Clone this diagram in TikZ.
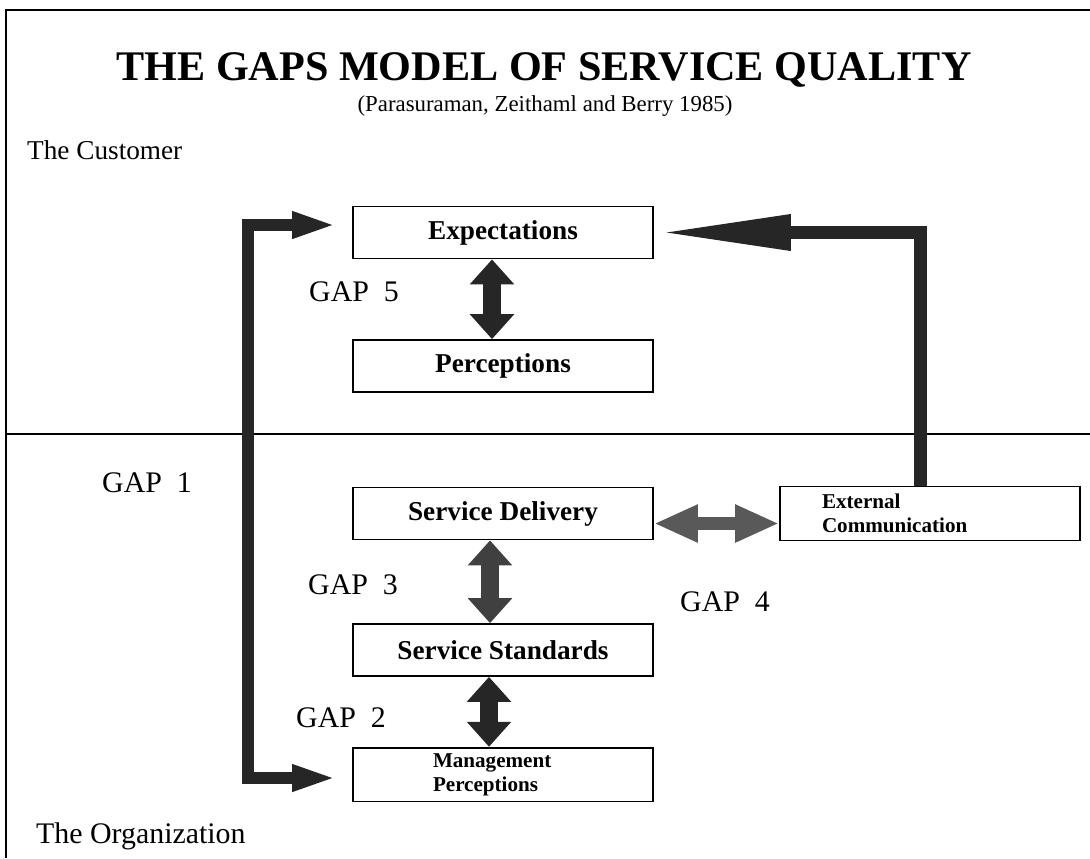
\documentclass[tikz,border=0pt]{standalone}
\usepackage{fontspec}
\setmainfont{Liberation Serif}
\usetikzlibrary{shapes,arrows,arrows.meta}
\tikzstyle{block} = [rectangle, draw, line width=1pt, minimum width=6cm, minimum height=1.04cm, font=\fontsize{15.5}{18}\selectfont\bfseries]
\tikzstyle{smallblock} = [rectangle, draw, line width=1pt, minimum width=6cm, minimum height=1.06cm, align=left, font=\fontsize{12}{13.5}\selectfont\bfseries]
\tikzstyle{gaplabel} = [font=\fontsize{17}{20}\selectfont]
\tikzstyle{fat} = [draw=black!85, line width=0.36cm, >={Triangle[length=0.5cm,width=0.86cm]}, <->]
\tikzstyle{wide} = [draw=black!65, line width=0.26cm, >={Triangle[length=0.88cm,width=0.7cm]}, <->]
\tikzstyle{gapline} = [draw=black!85, line width=0.23cm, line join=miter, >={Triangle[length=0.9cm,width=0.48cm]}, <->]
\tikzstyle{commline} = [draw=black!85, line width=0.26cm, line join=miter, -{Triangle[length=2.66cm,width=0.66cm]}]

\begin{document}
\begin{tikzpicture}
    \useasboundingbox (0,0) rectangle (21.8,-17.16);
    \draw[line width=1.2pt] (0.12,-17.16) -- (0.12,-0.2) -- (21.8,-0.2);
    \draw[line width=1pt] (0.12,-8.68) -- (21.8,-8.68);

    \node [font=\fontsize{24}{28}\selectfont\bfseries] (title) at (10.88,-1.4) {THE GAPS MODEL OF SERVICE QUALITY};
    \node [font=\fontsize{13}{15}\selectfont] (source) at (10.9,-2.12) {(Parasuraman, Zeithaml and Berry 1985)};
    \node [anchor=west, font=\fontsize{15.5}{18}\selectfont] (customer) at (0.42,-3.0) {The Customer};
    \node [anchor=west, font=\fontsize{17}{20}\selectfont] (organization) at (0.6,-16.72) {The Organization};

    \node [block] (exp) at (10.06,-4.65) {Expectations};
    \node [block, node distance=2.67cm, below of=exp] (perc) {Perceptions};
    \node [block, node distance=2.95cm, below of=perc] (delivery) {Service Delivery};
    \node [block, node distance=2.73cm, below of=delivery] (standards) {Service Standards};
    \node [smallblock, text width=2.8cm, node distance=2.49cm, below of=standards] (mgmt) {Management\\Perceptions};
    \node [smallblock, text width=4.32cm, node distance=8.54cm, right of=delivery, minimum height=1.08cm] (extcomm) {External\\Communication};

    \node [gaplabel] (gap5) at (7.08,-5.84) {GAP\ \ 5};
    \node [gaplabel] (gap1) at (2.94,-9.66) {GAP\ \ 1};
    \node [gaplabel] (gap3) at (7.06,-11.7) {GAP\ \ 3};
    \node [gaplabel] (gap4) at (14.5,-12.04) {GAP\ \ 4};
    \node [gaplabel] (gap2) at (6.82,-14.36) {GAP\ \ 2};

    \path [fat] ([xshift=-0.22cm]exp.south) -- ([xshift=-0.22cm]perc.north);
    \path [fat, draw=black!75] ([xshift=-0.26cm]delivery.south) -- ([xshift=-0.26cm]standards.north);
    \path [fat] ([xshift=-0.28cm]standards.south) -- ([xshift=-0.28cm]mgmt.north);
    \path [wide] ([yshift=-0.2cm]delivery.east) -- ([yshift=-0.2cm]extcomm.west);
    \path [gapline] ([xshift=-0.3cm,yshift=0.15cm]exp.west) -- ++(-1.78,0) |- ([xshift=-0.3cm,yshift=-0.07cm]mgmt.west);
    \path [commline] ([xshift=-0.2cm]extcomm.north) |- ([xshift=0.08cm]exp.east);
\end{tikzpicture}
\end{document}
